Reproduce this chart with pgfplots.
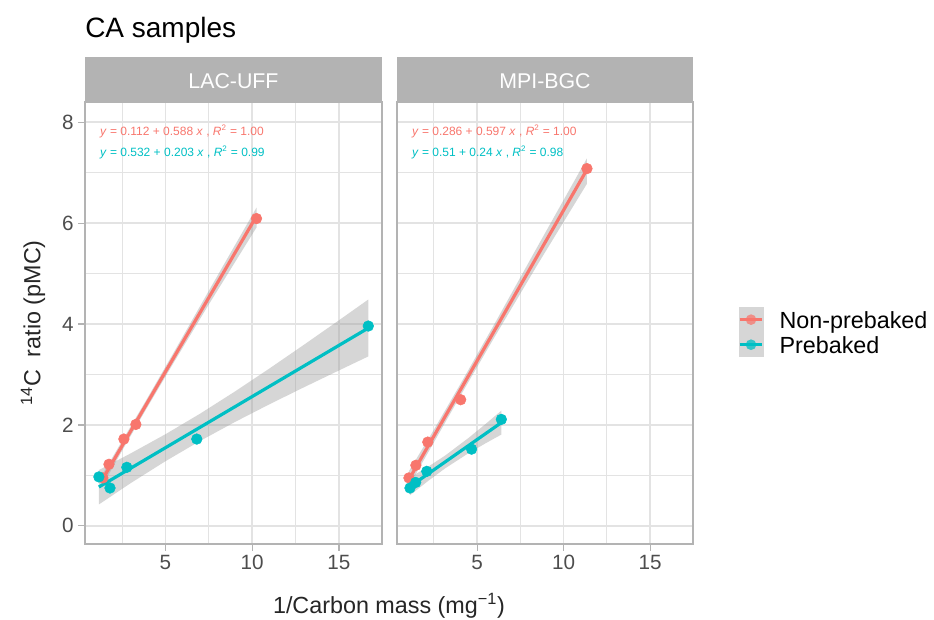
\documentclass[border=0pt]{standalone}
\usepackage{fontspec}
\setmainfont{Liberation Sans}
\usepackage{pgfplots}
\pgfplotsset{compat=1.18}
\definecolor{cred}{HTML}{F8766D}
\definecolor{cteal}{HTML}{00BFC4}
\definecolor{grey70}{HTML}{B3B3B3}
\definecolor{grey30}{HTML}{4D4D4D}
\definecolor{gridc}{HTML}{E3E3E3}
\definecolor{grey60}{HTML}{999999}
\pgfplotsset{
  panel/.style={
    width=222.75pt, height=331.5pt, scale only axis,
    xmin=0.37, xmax=17.48, ymin=-0.36, ymax=8.40,
    xtick={5,10,15}, minor xtick={2.5,7.5,12.5},
    ytick={0,2,4,6,8}, minor ytick={1,3,5,7},
    grid=both,
    major grid style={line width=1.1pt, draw=gridc},
    minor grid style={line width=0.7pt, draw=gridc},
    axis line style={draw=grey70, line width=1.1pt},
    tick style={draw=grey70, line width=0.9pt},
    tick align=outside, major tick length=5pt, minor tick length=0pt,
    xtick pos=bottom, ytick pos=left,
    ticklabel style={font=\fontsize{15.5}{18}\selectfont, text=grey30},
    /pgf/number format/assume math mode=true,
  },
  ribbon/.style={fill=grey60, fill opacity=0.4, draw=none, forget plot},
  fitline/.style={line width=2.4pt, forget plot},
  pts/.style={only marks, mark=*, mark size=4pt, mark options={draw=none, fill opacity=0.75}, forget plot},
}
\newcommand{\eqfont}{\fontsize{9}{10}\selectfont}
\begin{document}
\begin{tikzpicture}
% ---------------- Left panel: LAC-UFF ----------------
\begin{axis}[panel, at={(63.75pt,-408pt)}, anchor=south west]
\addplot[ribbon] coordinates {
 (1.40,0.811) (2.5,1.485) (3.834,2.277) (5.5,3.246) (7.5,4.387) (10.25,5.913)
 (10.25,6.307) (7.5,4.657) (5.5,3.447) (3.834,2.455) (2.5,1.679) (1.40,1.035)};
\addplot[ribbon] coordinates {
 (1.17,0.424) (3,0.846) (5,1.280) (7,1.683) (9,2.057) (11,2.410) (13,2.749) (15,3.080) (16.69,3.358)
 (16.69,4.486) (15,4.074) (13,3.593) (11,3.120) (9,2.661) (7,2.223) (5,1.815) (3,1.436) (1.17,1.106)};
\addplot[fitline, cred] coordinates {(1.40,0.935) (10.25,6.139)};
\addplot[fitline, cteal] coordinates {(1.17,0.770) (16.69,3.920)};
\addplot[pts, cred, mark options={fill=cred}] coordinates {
 (1.40,0.95) (1.75,1.22) (2.61,1.72) (3.30,2.01) (10.25,6.09)};
\addplot[pts, cteal, mark options={fill=cteal}] coordinates {
 (1.17,0.97) (1.81,0.75) (2.78,1.16) (6.81,1.72) (16.69,3.96)};
\node[anchor=west, text=cred, font=\eqfont, inner sep=0pt] at (rel axis cs:0.05,0.934)
 {\textit{y} = 0.112 + 0.588 \textit{x} , \textit{R}\textsuperscript{2} = 1.00};
\node[anchor=west, text=cteal, font=\eqfont, inner sep=0pt] at (rel axis cs:0.05,0.885)
 {\textit{y} = 0.532 + 0.203 \textit{x} , \textit{R}\textsuperscript{2} = 0.99};
\end{axis}
% ---------------- Right panel: MPI-BGC ----------------
\begin{axis}[panel, at={(297.75pt,-408pt)}, anchor=south west, width=222pt,
  yticklabels={}, every major y tick/.append style={draw=none},
  legend style={at={(1.152,0.536)}, anchor=north west, draw=none, fill=none,
    inner sep=0pt, outer sep=0pt, row sep=0pt, column sep=0pt,
    font=\fontsize{17.5}{21}\selectfont,
    nodes={inner sep=0pt, outer sep=0pt, text height=15.7pt, text depth=3.1pt, anchor=base west}},
  legend cell align=left]
\addplot[ribbon] coordinates {
 (1.06,0.790) (2.5,1.654) (4.022,2.571) (6,3.737) (8.5,5.181) (11.35,6.780)
 (11.35,7.284) (8.5,5.541) (6,3.999) (4.022,2.803) (2.5,1.904) (1.06,1.084)};
\addplot[ribbon] coordinates {
 (1.12,0.607) (2.2,0.898) (3.154,1.140) (4.5,1.439) (5.5,1.638) (6.40,1.809)
 (6.40,2.283) (5.5,2.022) (4.5,1.741) (3.154,1.394) (2.2,1.178) (1.12,0.961)};
\addplot[fitline, cred] coordinates {(1.06,0.919) (11.35,7.062)};
\addplot[fitline, cteal] coordinates {(1.12,0.779) (6.40,2.046)};
\addplot[pts, cred, mark options={fill=cred}] coordinates {
 (1.06,0.95) (1.46,1.20) (2.15,1.66) (4.05,2.50) (11.35,7.08)};
\addplot[pts, cteal, mark options={fill=cteal}] coordinates {
 (1.12,0.75) (1.45,0.86) (2.09,1.08) (4.68,1.52) (6.40,2.11)};
\node[anchor=west, text=cred, font=\eqfont, inner sep=0pt] at (rel axis cs:0.05,0.934)
 {\textit{y} = 0.286 + 0.597 \textit{x} , \textit{R}\textsuperscript{2} = 1.00};
\node[anchor=west, text=cteal, font=\eqfont, inner sep=0pt] at (rel axis cs:0.05,0.885)
 {\textit{y} = 0.51 + 0.24 \textit{x} , \textit{R}\textsuperscript{2} = 0.98};
\addlegendimage{draw=none, legend image code/.code={
  \fill[draw=none, fill=grey60, fill opacity=0.4] (0pt,-3.1pt) rectangle (18.75pt,15.7pt);
  \draw[draw=cred, line width=2.4pt] (0.8pt,6.3pt) -- (17.95pt,6.3pt);
  \fill[draw=none, fill=cred, fill opacity=0.75] (9.375pt,6.3pt) circle (4pt);
  \path[draw=none, fill=none] (0pt,6.3pt) -- (30.75pt,6.3pt);}}
\addlegendentry{Non-prebaked}
\addlegendimage{draw=none, legend image code/.code={
  \fill[draw=none, fill=grey60, fill opacity=0.4] (0pt,-3.1pt) rectangle (18.75pt,15.7pt);
  \draw[draw=cteal, line width=2.4pt] (0.8pt,6.3pt) -- (17.95pt,6.3pt);
  \fill[draw=none, fill=cteal, fill opacity=0.75] (9.375pt,6.3pt) circle (4pt);
  \path[draw=none, fill=none] (0pt,6.3pt) -- (30.75pt,6.3pt);}}
\addlegendentry{Prebaked}
\end{axis}
% ---------------- strips, titles ----------------
\fill[grey70] (63.75pt,-42.75pt) rectangle (286.5pt,-76.5pt);
\fill[grey70] (297.75pt,-42.75pt) rectangle (519.75pt,-76.5pt);
\node[anchor=base, text=white, font=\fontsize{16}{19}\selectfont, inner sep=0pt] at (175.1pt,-66pt) {LAC-UFF};
\node[anchor=base, text=white, font=\fontsize{16}{19}\selectfont, inner sep=0pt] at (408.75pt,-66pt) {MPI-BGC};
\node[anchor=base west, font=\fontsize{21}{25}\selectfont, inner sep=0pt] at (63.75pt,-27.75pt) {CA samples};
\node[anchor=base, font=\fontsize{17.5}{21}\selectfont, inner sep=0pt, text=black!85] at (291.75pt,-459.75pt)
 {1/Carbon mass (mg\textsuperscript{−1})};
\node[rotate=90, anchor=center, font=\fontsize{17.5}{21}\selectfont, inner sep=0pt, text=black!85] at (24.75pt,-242.25pt)
 {\textsuperscript{14}C\ \ ratio (pMC)};
\pgfresetboundingbox
\path[use as bounding box] (0pt,0pt) rectangle (700.5pt,-464.25pt);
\end{tikzpicture}
\end{document}
